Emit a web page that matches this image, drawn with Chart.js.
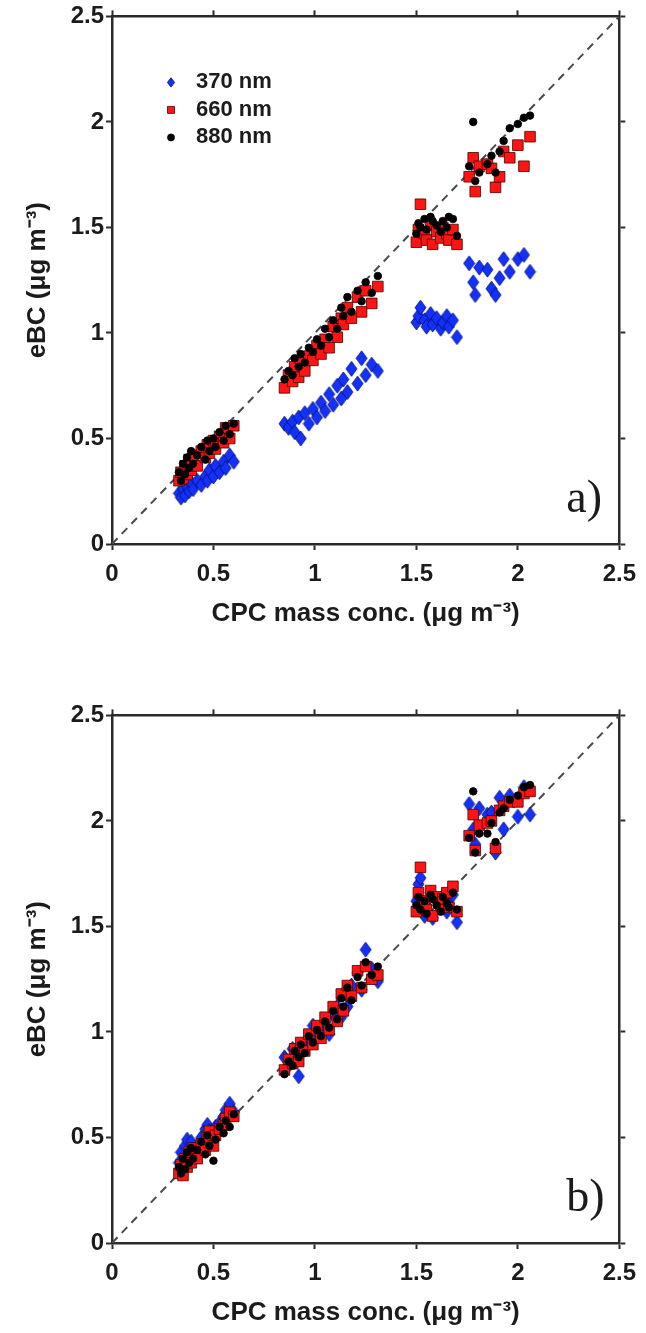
<!DOCTYPE html>
<html>
<head>
<meta charset="utf-8">
<title>eBC vs CPC mass concentration</title>
<script src="https://cdn.jsdelivr.net/npm/chart.js"></script>
<style>
  html, body { margin: 0; padding: 0; background: #fff; overflow: hidden; }
  .panel { position: absolute; left: 0; width: 646px; height: 634px; }
  #panelA { top: 0; }
  #panelB { top: 699px; }
</style>
</head>
<body>
<div class="panel" id="panelA"><canvas id="chartA" width="646" height="634"></canvas></div>
<div class="panel" id="panelB"><canvas id="chartB" width="646" height="634"></canvas></div>
<script>
// tick values (both axes) and the 1:1 reference line
var axisTicks = [0, 0.5, 1, 1.5, 2, 2.5];
var oneToOne = [0, 2.5];
var wavelengths = ["370 nm", "660 nm", "880 nm"];

// CPC mass concentration (x), shared by every series
var cpc = [
    0.33, 0.34, 0.35, 0.36, 0.37, 0.38, 0.39, 0.40, 0.42, 0.44, 0.46, 0.47, 0.48, 0.50, 0.51, 0.53, 0.55, 0.56, 0.58, 0.60,
    0.85, 0.87, 0.89, 0.90, 0.92, 0.93, 0.95, 0.97, 0.99, 1.01, 1.03, 1.05, 1.07, 1.09, 1.11, 1.13, 1.14, 1.16, 1.18, 1.21, 1.23, 1.25, 1.28, 1.31,
    1.50, 1.51, 1.52, 1.54, 1.55, 1.57, 1.58, 1.60, 1.62, 1.63, 1.65, 1.66, 1.68, 1.70,
    1.76, 1.78, 1.79, 1.81, 1.85, 1.87, 1.89, 1.91, 1.93, 1.96, 2.00, 2.03, 2.06
];

// panel a) eBC
var a370 = [
    0.24, 0.22, 0.26, 0.23, 0.27, 0.25, 0.29, 0.26, 0.30, 0.28, 0.32, 0.30, 0.35, 0.32, 0.37, 0.34, 0.39, 0.36, 0.42, 0.39,
    0.57, 0.55, 0.58, 0.53, 0.60, 0.50, 0.62, 0.57, 0.64, 0.60, 0.67, 0.63, 0.71, 0.66, 0.75, 0.69, 0.78, 0.72, 0.83, 0.76, 0.88, 0.80, 0.85, 0.82,
    1.05, 1.08, 1.12, 1.06, 1.03, 1.09, 1.04, 1.07, 1.02, 1.05, 1.08, 1.03, 1.06, 0.98,
    1.33, 1.24, 1.18, 1.31, 1.30, 1.21, 1.18, 1.26, 1.35, 1.29, 1.35, 1.37, 1.29
];
var a660 = [
    0.30, 0.34, 0.31, 0.37, 0.33, 0.40, 0.35, 0.42, 0.37, 0.44, 0.41, 0.47, 0.43, 0.49, 0.45, 0.51, 0.48, 0.55, 0.50, 0.56,
    0.74, 0.80, 0.77, 0.84, 0.79, 0.86, 0.82, 0.89, 0.87, 0.94, 0.90, 0.97, 0.93, 1.03, 0.98, 1.07, 1.04, 1.12, 1.07, 1.17, 1.10, 1.20, 1.14, 1.22,
    1.43, 1.49, 1.61, 1.47, 1.44, 1.51, 1.42, 1.48, 1.45, 1.50, 1.47, 1.44, 1.49, 1.42,
    1.74, 1.83, 1.67, 1.79, 1.80, 1.78, 1.69, 1.74, 1.86, 1.83, 1.89, 1.79, 1.93
];
var a880 = [
    0.34, 0.30, 0.38, 0.33, 0.41, 0.36, 0.44, 0.38, 0.42, 0.46, 0.40, 0.49, 0.44, 0.50, 0.46, 0.53, 0.49, 0.56, 0.52, 0.57,
    0.78, 0.82, 0.80, 0.88, 0.84, 0.90, 0.86, 0.93, 0.91, 0.97, 0.94, 1.02, 0.98, 1.06, 1.02, 1.12, 1.08, 1.17, 1.10, 1.20, 1.15, 1.24, 1.19, 1.27,
    1.47, 1.52, 1.50, 1.54, 1.49, 1.55, 1.53, 1.51, 1.48, 1.53, 1.50, 1.55, 1.54, 1.46,
    1.79, 2.00, 1.72, 1.76, 1.80, 1.84, 1.76, 1.86, 1.91, 1.97, 1.99, 2.02, 2.03
];

// panel b) eBC
var b370 = [
    0.38, 0.43, 0.36, 0.46, 0.49, 0.41, 0.48, 0.44, 0.43, 0.50, 0.54, 0.56, 0.53, 0.49, 0.55, 0.57, 0.60, 0.63, 0.66, 0.62,
    0.88, 0.84, 0.92, 0.86, 0.79, 0.90, 0.95, 0.97, 1.03, 0.98, 1.01, 1.04, 0.99, 1.08, 1.12, 1.07, 1.18, 1.12, 1.22, 1.28, 1.20, 1.39, 1.30, 1.24,
    1.62, 1.70, 1.73, 1.55, 1.60, 1.66, 1.54, 1.62, 1.59, 1.64, 1.57, 1.61, 1.65, 1.52,
    2.08, 1.96, 1.89, 2.06, 2.03, 2.04, 1.85, 2.11, 1.96, 2.12, 2.02, 2.16, 2.03
];
var b660 = [
    0.33, 0.37, 0.32, 0.40, 0.36, 0.43, 0.38, 0.45, 0.40, 0.47, 0.44, 0.50, 0.53, 0.46, 0.51, 0.54, 0.56, 0.59, 0.62, 0.60,
    0.82, 0.87, 0.85, 0.92, 0.86, 0.95, 0.91, 0.99, 0.94, 1.03, 0.97, 1.07, 1.01, 1.12, 1.05, 1.18, 1.10, 1.22, 1.17, 1.29, 1.21, 1.31, 1.25, 1.27,
    1.57, 1.66, 1.78, 1.62, 1.58, 1.67, 1.55, 1.64, 1.60, 1.63, 1.66, 1.59, 1.69, 1.57,
    1.93, 2.03, 1.86, 1.98, 1.99, 2.00, 1.87, 2.05, 2.07, 2.09, 2.09, 2.13, 2.14
];
var b880 = [
    0.36, 0.33, 0.40, 0.35, 0.43, 0.38, 0.45, 0.40, 0.44, 0.48, 0.42, 0.51, 0.46, 0.39, 0.49, 0.55, 0.52, 0.58, 0.55, 0.61,
    0.80, 0.86, 0.84, 0.91, 0.88, 0.94, 0.90, 0.98, 0.95, 1.01, 0.98, 1.05, 1.02, 1.10, 1.06, 1.16, 1.12, 1.21, 1.15, 1.26, 1.22, 1.33, 1.27, 1.31,
    1.60, 1.64, 1.58, 1.62, 1.56, 1.65, 1.63, 1.60, 1.57, 1.64, 1.61, 1.59, 1.66, 1.58,
    1.92, 2.14, 1.85, 1.94, 1.94, 1.99, 1.90, 2.04, 2.06, 2.10, 2.12, 2.16, 2.17
];

var FONT = "'Liberation Sans', Arial, Helvetica, sans-serif";
var INK = "#1b1b1b";
var BLUE = "#1430ff", BLUE_EDGE = "#00105a";
var RED = "#ff1414", RED_EDGE = "#4a0000";

function pts(ys) {
    return cpc.map(function (x, i) { return { x: x, y: ys[i] }; });
}

// MATLAB style diamond: a bit taller than wide
function diamondCanvas(hw, hh) {
    var c = document.createElement("canvas");
    c.width = Math.ceil(hw * 2 + 2);
    c.height = Math.ceil(hh * 2 + 2);
    var g = c.getContext("2d");
    var cx = c.width / 2, cy = c.height / 2;
    g.beginPath();
    g.moveTo(cx - hw, cy);
    g.lineTo(cx, cy - hh);
    g.lineTo(cx + hw, cy);
    g.lineTo(cx, cy + hh);
    g.closePath();
    g.fillStyle = BLUE;
    g.fill();
    g.lineWidth = 0.8;
    g.strokeStyle = BLUE_EDGE;
    g.stroke();
    return c;
}
var diamondMark = diamondCanvas(5.5, 7.5);

function axis(position, size, labels, titleText) {
    var horizontal = position === "top" || position === "bottom";
    var cfg = {
        type: "linear",
        position: position,
        min: 0,
        max: 2.5,
        afterBuildTicks: function (s) {
            s.ticks = axisTicks.map(function (v) { return { value: v }; });
        },
        afterFit: function (s) {
            if (horizontal) { s.height = size; } else { s.width = size; }
        },
        grid: {
            display: true,
            drawOnChartArea: false,
            drawTicks: true,
            tickLength: 6,
            tickWidth: 2,
            tickColor: "#2b2b2b"
        },
        border: { display: true, color: "#2b2b2b", width: 2.5 },
        ticks: {
            display: labels,
            color: INK,
            padding: horizontal ? 10 : 2,
            font: { family: FONT, size: 24, weight: "bold" },
            callback: function (v) { return String(v); }
        },
        title: { display: false }
    };
    if (titleText) {
        cfg.title = {
            display: true,
            text: titleText,
            color: INK,
            font: { family: FONT, size: 26, weight: "bold" },
            padding: horizontal ? { top: 0, bottom: 5 } : { top: 22, bottom: 0 }
        };
    }
    return cfg;
}

function drawMarker(ctx, kind, r, x, y) {
    ctx.beginPath();
    if (kind === 0) {
        ctx.moveTo(x - r, y);
        ctx.lineTo(x, y - r * 1.3);
        ctx.lineTo(x + r, y);
        ctx.lineTo(x, y + r * 1.3);
        ctx.closePath();
        ctx.fillStyle = BLUE;
        ctx.strokeStyle = BLUE_EDGE;
    } else if (kind === 1) {
        ctx.rect(x - r, y - r, 2 * r, 2 * r);
        ctx.fillStyle = RED;
        ctx.strokeStyle = RED_EDGE;
    } else {
        ctx.arc(x, y, r, 0, Math.PI * 2);
        ctx.fillStyle = "#000";
        ctx.strokeStyle = "#000";
    }
    ctx.fill();
    ctx.lineWidth = 0.8;
    ctx.stroke();
}

// in-plot legend and the panel letter
var panelDecor = {
    id: "panelDecor",
    afterDatasetsDraw: function (chart, args, opts) {
        var ctx = chart.ctx;
        var area = chart.chartArea;
        ctx.save();
        if (opts.legend) {
            var sizes = [3.6, 3.5, 3.5];
            ctx.font = "bold 22px " + FONT;
            ctx.textBaseline = "middle";
            ctx.textAlign = "left";
            for (var i = 0; i < wavelengths.length; i++) {
                var cy = area.top + 66 + i * 27.5;
                drawMarker(ctx, i, sizes[i], area.left + 59, cy);
                ctx.fillStyle = INK;
                ctx.fillText(wavelengths[i], area.left + 84, cy);
            }
        }
        ctx.font = "46px 'Liberation Serif', 'Times New Roman', Times, serif";
        ctx.fillStyle = INK;
        ctx.textAlign = "left";
        ctx.textBaseline = "alphabetic";
        ctx.fillText(opts.tag, area.right - 53, area.bottom - 32);
        ctx.restore();
    }
};

function makePanel(id, y370, y660, y880, tag, showLegend) {
    var ctx = document.getElementById(id);
    return new Chart(ctx, {
        type: "scatter",
        data: {
            datasets: [
                {
                    label: wavelengths[0],
                    data: pts(y370),
                    pointStyle: diamondMark,
                    pointRadius: 7,
                    backgroundColor: BLUE,
                    borderColor: BLUE_EDGE,
                    order: 3
                },
                {
                    label: wavelengths[1],
                    data: pts(y660),
                    pointStyle: "rect",
                    pointRadius: 7.5,
                    pointHoverRadius: 7.5,
                    backgroundColor: RED,
                    borderColor: RED_EDGE,
                    borderWidth: 0.8,
                    order: 2
                },
                {
                    label: wavelengths[2],
                    data: pts(y880),
                    pointStyle: "circle",
                    pointRadius: 3.8,
                    pointHoverRadius: 3.8,
                    backgroundColor: "#000000",
                    borderColor: "#000000",
                    borderWidth: 0.8,
                    order: 1
                },
                {
                    label: "1:1",
                    type: "line",
                    data: oneToOne.map(function (v) { return { x: v, y: v }; }),
                    showLine: true,
                    borderColor: "#4a4a4a",
                    borderWidth: 2,
                    borderDash: [8, 6],
                    pointRadius: 0,
                    fill: false,
                    order: 4
                }
            ]
        },
        options: {
            responsive: false,
            maintainAspectRatio: false,
            animation: false,
            layout: { padding: 0 },
            scales: {
                x: axis("bottom", 90, true, "CPC mass conc. (\u03bcg m\u207b\u00b3)"),
                xTop: axis("top", 16, false, null),
                y: axis("left", 112, true, "eBC (\u03bcg m\u207b\u00b3)"),
                yRight: axis("right", 23, false, null)
            },
            plugins: {
                legend: { display: false },
                tooltip: { enabled: false },
                panelDecor: { tag: tag, legend: showLegend }
            }
        },
        plugins: [panelDecor]
    });
}

makePanel("chartA", a370, a660, a880, "a)", true);
makePanel("chartB", b370, b660, b880, "b)", false);
</script>
</body>
</html>
